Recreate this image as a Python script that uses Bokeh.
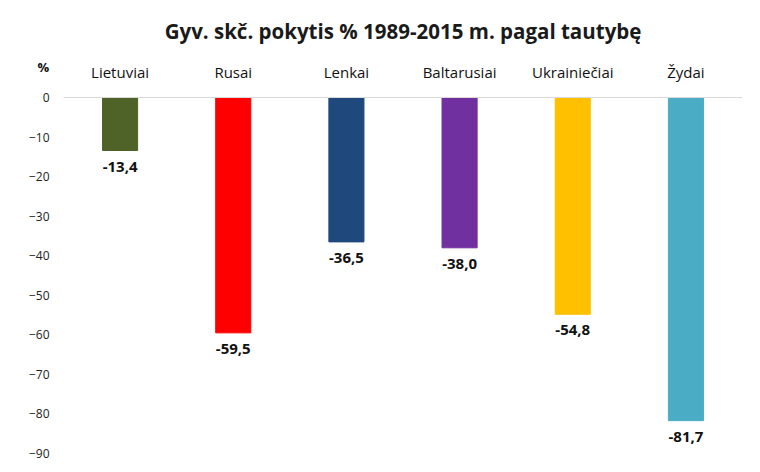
from bokeh.plotting import figure
from bokeh.models import FactorRange, Range1d, ColumnDataSource, FixedTicker, Title
from bokeh.core.properties import value
from bokeh.embed import file_html
from bokeh.resources import INLINE

categories = ["Lietuviai", "Rusai", "Lenkai", "Baltarusiai", "Ukrainiečiai", "Žydai"]
values = [-13.4, -59.5, -36.5, -38.0, -54.8, -81.7]
colors = ["#4F6228", "#FF0000", "#1F497D", "#7030A0", "#FFC000", "#4BACC6"]
y_ticks = [0, -10, -20, -30, -40, -50, -60, -70, -80, -90]
title_text = "Gyv. skč. pokytis % 1989-2015 m. pagal tautybę"
unit_text = "%"

FONT = "Open Sans"

src = ColumnDataSource(dict(
    cat=categories, val=values, color=colors,
    label=[("%.1f" % v).replace(".", ",") for v in values],
    zero=[0] * len(values),
))

p = figure(width=752, height=464, output_backend="svg", toolbar_location=None,
           x_range=FactorRange(*categories, range_padding=0),
           y_range=Range1d(-90, 0),
           x_axis_location="above",
           min_border_left=63, min_border_right=10, min_border_bottom=11, min_border_top=97)

# outermost title: the unit label above the y tick labels
p.title = Title(text=unit_text, align="left", offset=-26, standoff=-150, text_font=FONT,
                text_font_size="13px", text_font_style="bold", text_color="#111111")

p.vbar(x="cat", top="zero", bottom="val", width=0.31, color="color", source=src)
p.text(x="cat", y="val", text="label", source=src, text_align="center", text_baseline="top",
       y_offset=11, text_font=value(FONT), text_font_size="15px", text_font_style="bold",
       text_color="#111111")

p.xgrid.grid_line_color = None
p.ygrid.grid_line_color = None
p.outline_line_color = None

xa = p.xaxis[0]
xa.axis_line_color = "#D9D9D9"
xa.major_tick_line_color = None
xa.minor_tick_line_color = None
xa.major_label_text_font = FONT
xa.major_label_text_font_size = "15px"
xa.major_label_text_color = "#111111"
xa.major_label_standoff = 10

ya = p.yaxis[0]
ya.ticker = FixedTicker(ticks=y_ticks)
ya.axis_line_color = None
ya.major_tick_line_color = None
ya.minor_tick_line_color = None
ya.major_label_text_font = FONT
ya.major_label_text_font_size = "12px"
ya.major_label_text_color = "#222222"
ya.major_label_standoff = 8

p.add_layout(Title(text=title_text, align="center", offset=-22, text_font=FONT,
                   text_font_size="20.5px", text_font_style="bold", text_color="#1a1a1a",
                   standoff=28), "above")

open("out.html", "w").write(file_html(p, INLINE))
